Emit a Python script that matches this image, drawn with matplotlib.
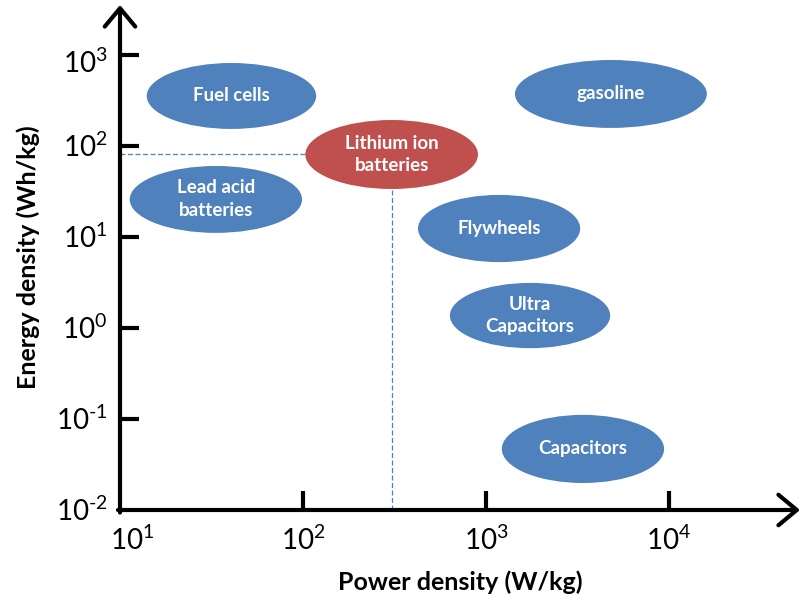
import numpy as np
import matplotlib
matplotlib.use("Agg")
import matplotlib.pyplot as plt
from matplotlib.patches import Ellipse

plt.rcParams['font.family'] = ['Lato', 'DejaVu Sans']
plt.rcParams['mathtext.fontset'] = 'custom'
plt.rcParams['mathtext.rm'] = 'Lato'
plt.rcParams['mathtext.it'] = 'Lato:italic'
plt.rcParams['mathtext.bf'] = 'Lato:bold'

# ranges (W/kg, Wh/kg)
names = ["Fuel cells", "gasoline", "Lithium ion\nbatteries", "Lead acid\nbatteries",
         "Flywheels", "Ultra\nCapacitors", "Capacitors"]
power_lo = [14, 1440, 103, 11.3, 425, 635, 1220]
power_hi = [118, 16100, 904, 98.8, 3270, 4770, 9400]
energy_lo = [154, 158, 33.7, 11.1, 5.3, 0.60, 0.0198]
energy_hi = [817, 881, 193, 60.3, 29, 3.13, 0.111]
highlight = "Lithium ion\nbatteries"

x_ticks = [1, 2, 3, 4]
y_ticks = [-2, -1, 0, 1, 2, 3]

BLUE = '#4F81BD'
RED = '#C0504D'

fig = plt.figure(figsize=(8.01, 6.01), dpi=100)
ax = fig.add_axes([120/801, 91/601, 680/801, 505/601])
ax.set_xlim(1, 1 + 680/183)
ax.set_ylim(-2, -2 + 505/91)

for name, plo, phi, elo, ehi in zip(names, power_lo, power_hi, energy_lo, energy_hi):
    x0, x1 = np.log10(plo), np.log10(phi)
    y0, y1 = np.log10(elo), np.log10(ehi)
    cx, cy = (x0 + x1) / 2, (y0 + y1) / 2
    col = RED if name == highlight else BLUE
    ax.add_patch(Ellipse((cx, cy), x1 - x0, y1 - y0, facecolor=col,
                         edgecolor='none', zorder=3))
    ax.text(cx, cy, name, color='white', fontsize=13.5, fontweight='bold',
            ha='center', va='center', linespacing=1.42, zorder=4)
    if name == highlight:
        ax.plot([1, cx], [cy, cy], color=BLUE, lw=0.9, ls=(0, (4, 2)), zorder=2)
        ax.plot([cx, cx], [-2, cy], color=BLUE, lw=0.9, ls=(0, (4, 2)), zorder=2)

for s in ax.spines.values():
    s.set_visible(False)

arrow = dict(arrowstyle='->,head_length=0.6,head_width=0.5', lw=3,
             color='black', mutation_scale=22, shrinkA=0, shrinkB=0)
ax.annotate('', xy=(1.0, 0), xytext=(-0.003, 0), xycoords='axes fraction',
            arrowprops=arrow, zorder=5)
ax.annotate('', xy=(0, 1.0), xytext=(0, -0.005), xycoords='axes fraction',
            arrowprops=arrow, zorder=5)

# tick marks only; labels placed by hand
ax.set_xticks(x_ticks[1:])
ax.set_yticks(y_ticks[1:])
ax.set_xticklabels([])
ax.set_yticklabels([])
ax.tick_params(direction='in', length=14, width=3)

def lab(v):
    return r'$10^{%s}$' % str(v).replace('-', '\u2010')

for v in x_ticks:
    dx = 9 if v == 1 else 0
    ax.annotate(lab(v), (v, -2), xytext=(dx, -22), textcoords='offset points',
                ha='center', va='center', fontsize=20)
for v in y_ticks:
    dy = -6 if v == 3 else -1
    ax.annotate(lab(v), (1, v), xytext=(-9, dy), textcoords='offset points',
                ha='right', va='center', fontsize=20)

ax.set_xlabel('Power density (W/kg)', fontsize=18, fontweight='bold', labelpad=40)
ax.set_ylabel('Energy density (Wh/kg)', fontsize=18, fontweight='bold', labelpad=54)

fig.savefig('out.png', dpi=100)
